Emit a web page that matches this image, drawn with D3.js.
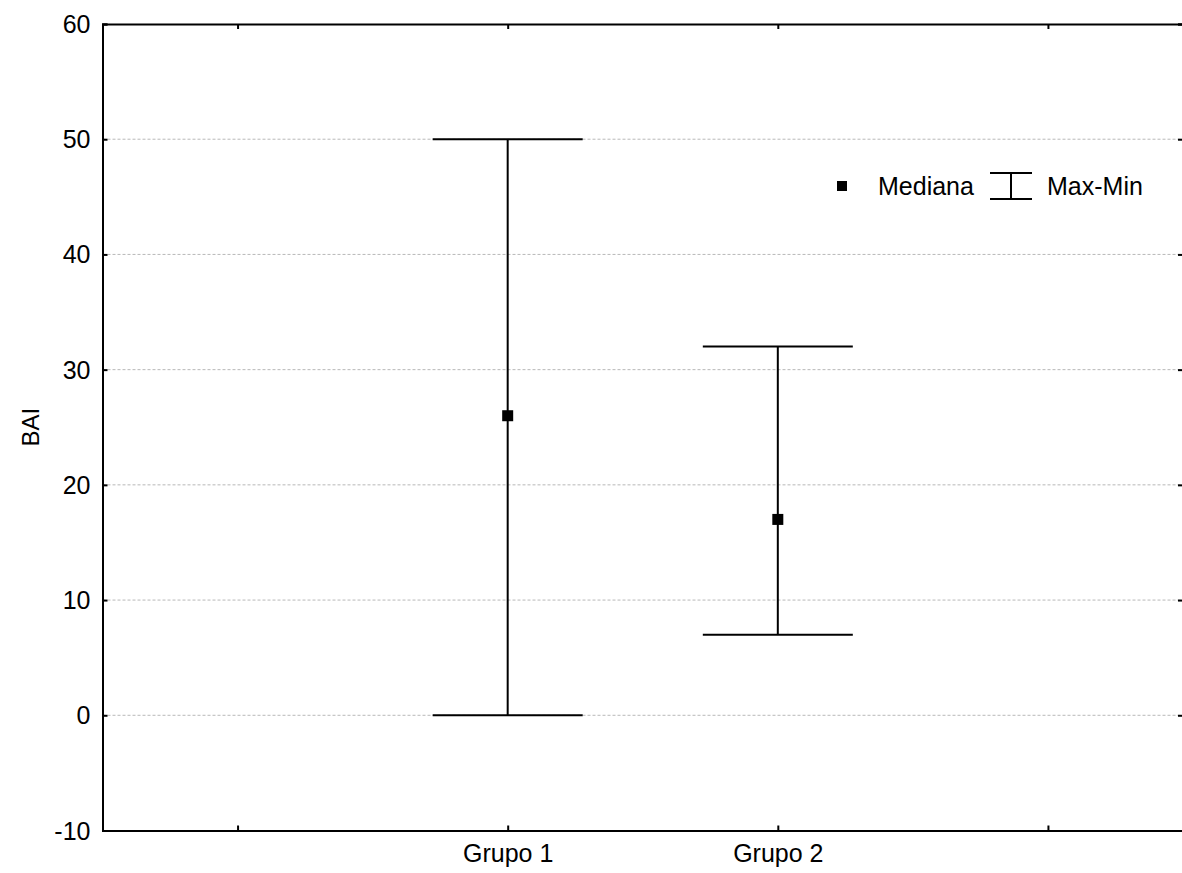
<!DOCTYPE html>
<html>
<head>
<meta charset="utf-8">
<script src="https://cdn.jsdelivr.net/npm/d3@7"></script>
<style>
  body { margin: 0; background: #fff; }
  svg { display: block; font-family: "Liberation Sans", Arial, sans-serif; }
</style>
</head>
<body>
<div id="chart"></div>
<script>
// categories (empty slots keep the extra ticks on each side)
const categories = ["", "Grupo 1", "Grupo 2", " "];
const groups = ["Grupo 1", "Grupo 2"];
const medians = [26, 17];
const maxValues = [50, 32];
const minValues = [0, 7];
const yTicks = [-10, 0, 10, 20, 30, 40, 50, 60];

const W = 1182, H = 873;
const margin = { top: 24, right: -1, bottom: 42.5, left: 102.5 };
const width = W - margin.left - margin.right,
  height = H - margin.top - margin.bottom;

const svg = d3.select("#chart").append("svg")
  .attr("width", W).attr("height", H);
const g = svg.append("g")
  .attr("transform", `translate(${margin.left},${margin.top})`);

const x = d3.scalePoint().domain(categories).range([0, width]).padding(0.5);
const y = d3.scaleLinear().domain([-10, 60]).range([height, 0]);

// dashed grid lines
g.append("g")
  .selectAll("line")
  .data(yTicks.filter(d => d > -10 && d < 60))
  .join("line")
  .attr("x1", 0).attr("x2", width)
  .attr("y1", d => y(d)).attr("y2", d => y(d))
  .attr("stroke", "#b8b8b8")
  .attr("stroke-width", 1)
  .attr("stroke-dasharray", "3,2");

// axes, ticks inward
const fs = "25px";
const axisL = g.append("g").call(d3.axisLeft(y).tickValues(yTicks).tickSize(-5).tickPadding(12)
  .tickFormat(d => String(d))); // plain hyphen for -10
const axisR = g.append("g").attr("transform", `translate(${width},0)`)
  .call(d3.axisRight(y).tickValues(yTicks).tickSize(-5).tickFormat(""));
const axisB = g.append("g").attr("transform", `translate(0,${height})`)
  .call(d3.axisBottom(x).tickSize(-5).tickPadding(14));
const axisT = g.append("g")
  .call(d3.axisTop(x).tickSize(-5).tickFormat(""));

[axisL, axisR, axisB, axisT].forEach(a => {
  a.select(".domain").attr("stroke", "#000").attr("stroke-width", 2);
  a.selectAll(".tick line").attr("stroke", "#000").attr("stroke-width", 2);
  a.selectAll(".tick text").attr("fill", "#000").style("font-size", fs);
});
axisL.selectAll(".tick text").attr("dy", "0.34em");
axisB.selectAll(".tick text").attr("dy", "0.68em");

// y axis title
g.append("text")
  .attr("transform", `translate(${-64},${y(25)}) rotate(-90)`)
  .attr("text-anchor", "middle")
  .style("font-size", "24px")
  .text("BAI");

// whiskers (max-min)
const capHalf = 75;
const series = g.append("g");
groups.forEach((grp, i) => {
  const cx = x(grp);
  series.append("line")
    .attr("x1", cx).attr("x2", cx)
    .attr("y1", y(maxValues[i])).attr("y2", y(minValues[i]))
    .attr("stroke", "#000").attr("stroke-width", 2);
  [maxValues[i], minValues[i]].forEach(v => {
    series.append("line")
      .attr("x1", cx - capHalf).attr("x2", cx + capHalf)
      .attr("y1", y(v)).attr("y2", y(v))
      .attr("stroke", "#000").attr("stroke-width", 2);
  });
  // median marker
  series.append("rect")
    .attr("x", cx - 5.5).attr("y", y(medians[i]) - 5.5)
    .attr("width", 11).attr("height", 11)
    .attr("fill", "#000");
});

// legend
const lg = svg.append("g").attr("transform", "translate(842,186)");
lg.append("rect").attr("x", -5).attr("y", -5).attr("width", 10).attr("height", 10).attr("fill", "#000");
lg.append("text").attr("x", 36).attr("y", 0).attr("dy", "0.36em").style("font-size", fs).text("Mediana");
lg.append("line").attr("x1", 148).attr("x2", 190).attr("y1", -13).attr("y2", -13).attr("stroke", "#000").attr("stroke-width", 2);
lg.append("line").attr("x1", 148).attr("x2", 190).attr("y1", 13).attr("y2", 13).attr("stroke", "#000").attr("stroke-width", 2);
lg.append("line").attr("x1", 169).attr("x2", 169).attr("y1", -13).attr("y2", 13).attr("stroke", "#000").attr("stroke-width", 2);
lg.append("text").attr("x", 205).attr("y", 0).attr("dy", "0.36em").style("font-size", fs).text("Max-Min");
</script>
</body>
</html>
